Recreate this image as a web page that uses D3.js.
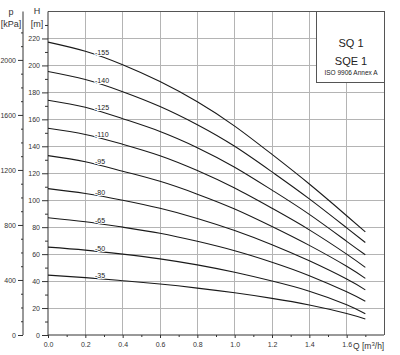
<!DOCTYPE html>
<html><head><meta charset="utf-8">
<script src="https://cdn.jsdelivr.net/npm/d3@7"></script>
<style>
html,body{margin:0;padding:0;background:#fff;}
svg{display:block;font-family:Arial,"Liberation Sans",sans-serif;}
</style></head>
<body><svg id="c" width="400" height="355"></svg>
<script>
// ---- data ----
const flowQ = [0, 0.2, 0.4, 0.6, 0.8, 1.0, 1.2, 1.4, 1.6, 1.7];
const models = ["155", "140", "125", "110", "95", "80", "65", "50", "35"];
const head155 = [217.3, 210.5, 200.5, 188, 173, 155, 134, 112, 88.5, 76.5];
const head140 = [195.5, 189.5, 180.5, 169.5, 156, 140, 121, 101, 79.5, 68.6];
const head125 = [174.2, 169, 160.5, 151, 139, 124.5, 107.5, 89.5, 69.5, 59.5];
const head110 = [153.4, 148.8, 141.5, 133, 122, 109, 94, 78, 60, 50.2];
const head95  = [133.1, 128.5, 121.5, 114, 104.5, 93.5, 80.5, 66.5, 51, 42];
const head80  = [108.6, 105, 100, 94, 86.5, 77.5, 67, 55, 41.5, 33.5];
const head65  = [87, 84, 80, 75.5, 69.5, 62.5, 54, 44, 32, 25];
const head50  = [65.2, 63, 60, 56.5, 52, 46.5, 40, 32.5, 22.5, 15.8];
const head35  = [44.4, 42.6, 40.3, 37.8, 34.8, 31.3, 27.2, 22.3, 16, 11.9];
const headSeries = [head155, head140, head125, head110, head95, head80, head65, head50, head35];
const xTicks = [0, 0.2, 0.4, 0.6, 0.8, 1.0, 1.2, 1.4, 1.6];
const hTicks = [0, 20, 40, 60, 80, 100, 120, 140, 160, 180, 200, 220];
const pTicks = [0, 400, 800, 1200, 1600, 2000];
const titleLines = ["SQ 1", "SQE 1"];
const standardText = "ISO 9906 Annex A";
const labelQ = 0.26;

// ---- layout ----
const svg = d3.select("#c");
const x = d3.scaleLinear().domain([0, 1.8]).range([48, 384]);
const y = d3.scaleLinear().domain([0, 240]).range([335, 11.5]);
const yp = d3.scaleLinear().domain([0, 240 * 9.8]).range([335, 11.5]);
const gridC = "#b4b4b4", axisC = "#333", txtC = "#333";

// grid
const g = svg.append("g");
g.selectAll(".hg").data(hTicks.filter(d => d > 0)).join("line")
  .attr("x1", x(0)).attr("x2", x(1.8)).attr("y1", d => y(d)).attr("y2", d => y(d))
  .attr("stroke", gridC).attr("stroke-width", 1).attr("shape-rendering", "crispEdges");
g.selectAll(".vg").data(xTicks.filter(d => d > 0)).join("line")
  .attr("x1", d => x(d)).attr("x2", d => x(d)).attr("y1", y(0)).attr("y2", y(240))
  .attr("stroke", gridC).attr("stroke-width", 1).attr("shape-rendering", "crispEdges");
// frame top/right
svg.append("line").attr("x1", x(0)).attr("x2", x(1.8)).attr("y1", y(240)).attr("y2", y(240))
  .attr("stroke", "#555").attr("shape-rendering", "crispEdges");
svg.append("line").attr("x1", x(1.8)).attr("x2", x(1.8)).attr("y1", y(240)).attr("y2", y(0))
  .attr("stroke", "#555").attr("shape-rendering", "crispEdges");

// H axis
const hAxis = d3.axisLeft(y).tickValues(hTicks).tickSize(6).tickPadding(2).tickFormat(d3.format("d"));
const hG = svg.append("g").attr("transform", `translate(${x(0)},0)`).call(hAxis);
hG.select(".domain").attr("d", `M0,${y(240)}V${y(0)}`);
svg.append("g").attr("transform", `translate(${x(0)},0)`)
  .call(d3.axisLeft(y).tickValues(d3.range(10, 240, 20)).tickSize(3).tickFormat(""))
  .select(".domain").remove();

// p axis
const pG = svg.append("g").attr("transform", "translate(23,0)")
  .call(d3.axisLeft(yp).tickValues(pTicks).tickSize(5).tickPadding(2).tickFormat(d3.format("d")));
pG.select(".domain").attr("d", `M0,${yp(0)}V${y(240)}`);
svg.append("g").attr("transform", "translate(23,0)")
  .call(d3.axisLeft(yp).tickValues(d3.range(100, 2300, 100).filter(d => d % 400 !== 0)).tickSize(2).tickFormat(""))
  .select(".domain").remove();

// x axis
const xG = svg.append("g").attr("transform", `translate(0,${y(0)})`)
  .call(d3.axisBottom(x).tickValues(xTicks).tickSize(3).tickPadding(4).tickFormat(d3.format(".1f")));
xG.select(".domain").attr("d", `M${x(0)},0H${x(1.8)}`);
svg.append("g").attr("transform", `translate(0,${y(0)})`)
  .call(d3.axisBottom(x).tickValues(d3.range(0.1, 1.8, 0.2)).tickSize(2).tickFormat(""))
  .select(".domain").remove();

svg.selectAll(".tick text").attr("font-size", 7).attr("fill", txtC)
  .attr("font-family", "Arial, 'Liberation Sans', sans-serif");
svg.selectAll(".tick line, .domain").attr("stroke", axisC);

// axis titles
const t = (tx, ty, s, fs, anchor) => svg.append("text").attr("x", tx).attr("y", ty)
  .attr("font-size", fs).attr("fill", txtC).attr("text-anchor", anchor || "middle").text(s);
t(11, 15, "p", 9);
t(11, 27, "[kPa]", 9);
t(37, 14, "H", 9);
t(37, 27, "[m]", 9);
const ql = svg.append("text").attr("x", 353).attr("y", 349).attr("font-size", 8.5).attr("fill", txtC);
ql.append("tspan").text("Q [m");
ql.append("tspan").attr("font-size", 6).attr("dy", -3).text("3");
ql.append("tspan").attr("dy", 3).text("/h]");

// curves
const line = d3.line().x((d, i) => x(flowQ[i])).y(d => y(d)).curve(d3.curveNatural);
svg.append("g").selectAll("path").data(headSeries).join("path")
  .attr("d", line).attr("fill", "none").attr("stroke", "#1a1a1a").attr("stroke-width", 1.1);

// labels
function headAt(arr, q) {
  const i = d3.bisectRight(flowQ, q) - 1;
  const f = (q - flowQ[i]) / (flowQ[i + 1] - flowQ[i]);
  return arr[i] + (arr[i + 1] - arr[i]) * f;
}
svg.append("g").selectAll("text").data(models).join("text")
  .attr("x", x(0.252)).attr("y", (m, i) => y(headAt(headSeries[i], labelQ)) - 0.5)
  .attr("font-size", 7).attr("fill", "#222")
  .attr("stroke", "#fff").attr("stroke-width", 2).attr("paint-order", "stroke")
  .text(m => "-" + m);

// title box
svg.append("rect").attr("x", 316).attr("y", y(240)).attr("width", x(1.8) - 316).attr("height", 82 - y(240))
  .attr("fill", "#fff").attr("stroke", "#555").attr("stroke-width", 1).attr("shape-rendering", "crispEdges");
svg.selectAll(".ttl").data(titleLines).join("text")
  .attr("x", 351).attr("y", (d, i) => 47 + i * 17.5).attr("text-anchor", "middle")
  .attr("font-size", 11).attr("fill", "#222").text(d => d);
svg.append("text").attr("x", 351).attr("y", 75).attr("text-anchor", "middle")
  .attr("font-size", 6.5).attr("fill", "#222").text(standardText);
</script></body></html>
